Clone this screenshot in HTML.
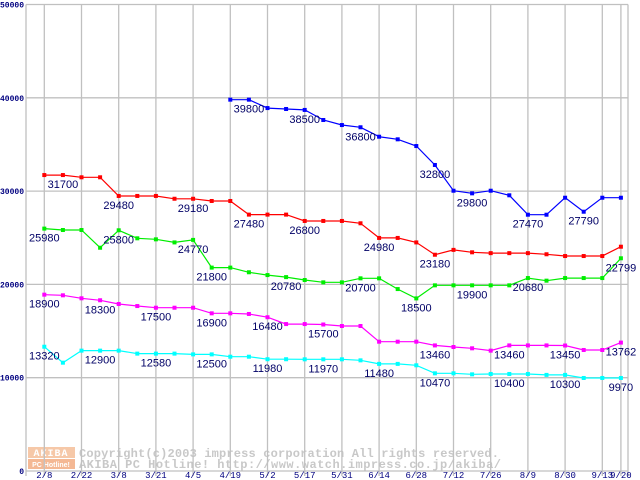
<!DOCTYPE html>
<html><head><meta charset="utf-8"><style>
body{margin:0;background:#fff;width:640px;height:480px;overflow:hidden}
svg{display:block}
</style></head><body>
<svg id="chart" width="640" height="480" viewBox="0 0 640 480" xmlns="http://www.w3.org/2000/svg">
<g id="wm">
<rect x="28" y="447" width="47" height="11" fill="#f6c8a8"/>
<rect x="28" y="459" width="47" height="10" fill="#f4b894"/>
<text x="51" y="456" font-family="Liberation Mono, monospace" font-size="10" font-weight="bold" fill="#fff" text-anchor="middle" letter-spacing="1">AKIBA</text>
<text x="51" y="467" font-family="Liberation Sans, sans-serif" font-size="7" font-weight="bold" fill="#fff" text-anchor="middle">PC Hotline!</text>
<text x="79" y="457" font-family="Liberation Mono, monospace" font-size="12" font-weight="bold" fill="#c8c8c8" textLength="420">Copyright(c)2003 impress corporation All rights reserved.</text>
<text x="79" y="468" font-family="Liberation Mono, monospace" font-size="12" font-weight="bold" fill="#c8c8c8" textLength="422">AKIBA PC Hotline!  http://www.watch.impress.co.jp/akiba/</text>
</g>
<g id="grid"></g><g id="series"></g><g id="labels"></g><g id="axes"></g>
</svg>
<script>
const xLabels=["2/8","2/22","3/8","3/21","4/5","4/19","5/2","5/17","5/31","6/14","6/28","7/12","7/26","8/9","8/30","9/13","9/20"];
const yTicks=[0,10000,20000,30000,40000,50000];
const blueValues=[null,null,null,null,null,null,null,null,null,null,39800,39800,38900,38800,38700,37620,37080,36840,35830,35550,34830,32800,30040,29760,30040,29550,27470,27470,29290,27790,29290,29290];
const redValues=[31720,31720,31480,31480,29480,29480,29480,29180,29180,28940,28940,27480,27480,27480,26800,26800,26800,26550,24980,24980,24500,23180,23700,23440,23350,23350,23350,23230,23040,23040,23040,24040];
const greenValues=[25980,25830,25830,23930,25800,24940,24830,24500,24770,21800,21800,21300,21000,20780,20470,20220,20220,20650,20650,19500,18500,19900,19900,19900,19900,19900,20680,20400,20680,20680,20680,22799];
const magentaValues=[18900,18830,18510,18300,17900,17680,17500,17500,17500,16900,16900,16830,16480,15750,15750,15700,15540,15540,13860,13860,13860,13460,13290,13150,12900,13460,13460,13460,13450,12970,12970,13762];
const cyanValues=[13320,11610,12900,12900,12900,12580,12580,12580,12500,12500,12250,12250,11980,11980,11970,11970,11970,11860,11480,11480,11330,10470,10470,10360,10400,10400,10400,10300,10300,9970,9970,9970];
const blueLabels=[[11,"39800"],[14,"38500"],[17,"36800"],[21,"32800"],[23,"29800"],[26,"27470"],[29,"27790"]];
const redLabels=[[1,"31700"],[4,"29480"],[8,"29180"],[11,"27480"],[14,"26800"],[18,"24980"],[21,"23180"]];
const greenLabels=[[0,"25980"],[4,"25800"],[8,"24770"],[9,"21800"],[13,"20780"],[17,"20700"],[20,"18500"],[23,"19900"],[26,"20680"],[31,"22799"]];
const magentaLabels=[[0,"18900"],[3,"18300"],[6,"17500"],[9,"16900"],[12,"16480"],[15,"15700"],[21,"13460"],[25,"13460"],[28,"13450"],[31,"13762"]];
const cyanLabels=[[0,"13320"],[3,"12900"],[6,"12580"],[9,"12500"],[12,"11980"],[15,"11970"],[18,"11480"],[21,"10470"],[25,"10400"],[28,"10300"],[31,"9970"]];

const NS="http://www.w3.org/2000/svg";
const X0=44.3,DX=18.6,LEFT=26,RIGHT=628,YB=471,YT=4.5;
const xAt=k=>X0+k*DX;
const yAt=v=>YB-(v/50000)*(YB-YT);
function mk(tag,attrs,parent){const e=document.createElementNS(NS,tag);for(const a in attrs)e.setAttribute(a,attrs[a]);parent.appendChild(e);return e;}
const grid=document.getElementById('grid'),axes=document.getElementById('axes'),ser=document.getElementById('series'),lab=document.getElementById('labels');
yTicks.forEach(v=>{
  const l=mk('line',{x1:LEFT,x2:RIGHT,y1:yAt(v),y2:yAt(v),stroke:'#c0c0c0','stroke-width':1.3},grid);
  
  
  const t=mk('text',{x:24,y:yAt(v)+3,'text-anchor':'end','font-family':'Liberation Mono, monospace','font-size':8,'font-weight':'bold',fill:'#000080'},axes);
  t.textContent=String(v);
  
  
});
const vl=mk('line',{x1:LEFT,x2:LEFT,y1:YT,y2:YB+5,stroke:'#c0c0c0','stroke-width':1.3},grid);


const rl=mk('line',{x1:RIGHT,x2:RIGHT,y1:YT,y2:YB+5,stroke:'#c0c0c0','stroke-width':1.3},grid);


xLabels.forEach((s,i)=>{
  const k=i<16?i*2:31;
  const g=mk('line',{x1:xAt(k),x2:xAt(k),y1:YT,y2:YB+5,stroke:'#c0c0c0','stroke-width':1.3},grid);
  
  
  const t=mk('text',{x:xAt(k),y:478,'text-anchor':'middle','font-family':'Liberation Mono, monospace','font-size':9,fill:'#000080'},axes);
  t.textContent=s;
  
  
});
function drawSeries(vals,labels,color,name){
  const g=mk('g',{},ser);
  
  
  let d='';vals.forEach((v,k)=>{if(v==null)return;d+=(d?'L':'M')+xAt(k).toFixed(1)+' '+yAt(v).toFixed(1);});
  const p=mk('path',{d:d,fill:'none',stroke:color,'stroke-width':1.2},g);
  
  
  vals.forEach((v,k)=>{if(v==null)return;
    const r=mk('rect',{x:xAt(k)-2,y:yAt(v)-2,width:4,height:4,fill:color},g);
    
    
  });
  labels.forEach(([k,s])=>{
    const t=mk('text',{x:xAt(k),y:yAt(vals[k])+13,'text-anchor':'middle','font-family':'Liberation Sans, sans-serif','font-size':11,fill:'#000066'},lab);
    t.textContent=s;
    
    
  });
}
drawSeries(blueValues,blueLabels,'#0000ff','blue');
drawSeries(redValues,redLabels,'#ff0000','red');
drawSeries(greenValues,greenLabels,'#00ee00','green');
drawSeries(magentaValues,magentaLabels,'#ff00ff','magenta');
drawSeries(cyanValues,cyanLabels,'#00ffff','cyan');
</script>
</body></html>
